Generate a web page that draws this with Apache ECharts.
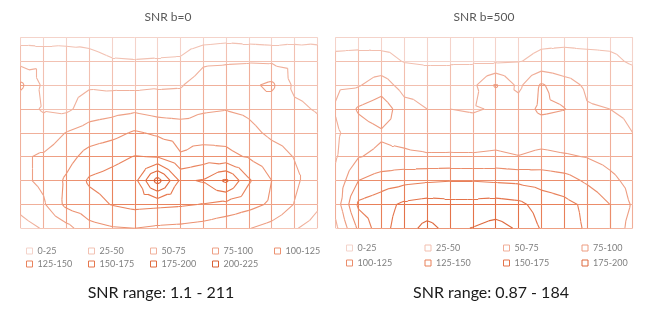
<!DOCTYPE html>
<html><head><meta charset="utf-8">
<script src="https://cdn.jsdelivr.net/npm/echarts@6/dist/echarts.min.js"></script>
<style>html,body{margin:0;padding:0;background:#fff}#c{width:659px;height:318px}</style>
</head><body><div id="c"></div>
<script>
// ---- data ----
const leftTitle = 'SNR b=0';
const rightTitle = 'SNR b=500';
const leftRange = 'SNR range: 1.1 - 211';
const rightRange = 'SNR range: 0.87 - 184';
const leftBands = ['0-25','25-50','50-75','75-100','100-125','125-150','150-175','175-200','200-225'];
const rightBands = ['0-25','25-50','50-75','75-100','100-125','125-150','150-175','175-200'];
const bandStep = 25;
// rows top -> bottom, 14 columns each
const leftZ = [
  [16,14,16,18,13,12,12,13,15,18,16,14,17,19],
  [42,45,40,33,27,26,27,28,46,47,48,47,44,38],
  [80,45,44,47,45,45,47,48,62,68,70,80,45,42],
  [58,48,45,62,66,70,64,62,72,74,70,60,55,48],
  [66,60,76,86,92,103,96,92,88,92,82,70,66,58],
  [72,78,90,110,118,126,124,102,112,106,98,86,74,64],
  [70,80,104,128,134,142,211,146,152,180,128,100,80,60],
  [58,72,106,116,126,132,130,128,124,118,108,96,74,54],
  [40,52,66,92,98,100,96,94,90,82,76,66,52,40]
];
const rightZ = [
  [15,15,16,18,16,15,14,14,16,20,20,18,18,16],
  [32,34,32,24,22,22,22,22,24,30,32,32,30,22],
  [46,48,62,40,40,42,44,78,44,78,60,46,42,40],
  [52,78,90,60,50,50,48,52,62,80,76,52,50,48],
  [46,64,72,66,60,62,60,62,58,60,58,56,54,50],
  [48,74,80,80,78,78,78,80,76,82,78,74,66,56],
  [56,100,112,118,122,124,124,122,120,115,110,96,82,66],
  [60,130,140,155,160,158,158,160,156,140,132,120,100,72],
  [44,105,140,165,182,168,176,184,172,148,136,122,100,62]
];
const leftColors = ['#f4d3ca','#f2c1b2','#f0b09b','#eea085','#ec9170','#e9835d','#e6774d','#e06b3f','#d96034'];
const rightColors = ['#f4d3ca','#f2bfaf','#f0ad97','#ed9c80','#eb8d6b','#e88059','#e4734a','#dd683c'];

// ---- build contour + wireframe segments ----
function build(Z, nBands) {
  const segs = Array.from({length: nBands}, () => []);
  const band = v => Math.min(nBands - 1, Math.max(0, Math.floor(v / bandStep)));
  const nr = Z.length, nc = Z[0].length;
  function edge(x1, y1, v1, x2, y2, v2) {
    const lo = Math.min(v1, v2), hi = Math.max(v1, v2);
    const ts = [];
    for (let L = bandStep; L < nBands * bandStep; L += bandStep) {
      if (L > lo && L < hi) ts.push((L - v1) / (v2 - v1));
    }
    ts.sort((a, b) => a - b);
    const all = [0, ...ts, 1];
    for (let k = 0; k < all.length - 1; k++) {
      const ta = all[k], tb = all[k + 1], tm = (ta + tb) / 2;
      const vm = v1 + (v2 - v1) * tm;
      segs[band(vm)].push({coords: [[x1 + (x2 - x1) * ta, y1 + (y2 - y1) * ta], [x1 + (x2 - x1) * tb, y1 + (y2 - y1) * tb]]});
    }
  }
  for (let r = 0; r < nr; r++) for (let c = 0; c < nc; c++) {
    if (c < nc - 1) edge(c, r, Z[r][c], c + 1, r, Z[r][c + 1]);
    if (r < nr - 1) edge(c, r, Z[r][c], c, r + 1, Z[r + 1][c]);
  }
  for (let r = 0; r < nr - 1; r++) for (let c = 0; c < nc - 1; c++) {
    const A = [c, r, Z[r][c]], B = [c + 1, r, Z[r][c + 1]], C = [c + 1, r + 1, Z[r + 1][c + 1]], D = [c, r + 1, Z[r + 1][c]];
    const M = [c + 0.5, r + 0.5, (A[2] + B[2] + C[2] + D[2]) / 4];
    const tris = [[A, B, M], [B, C, M], [C, D, M], [D, A, M]];
    for (let k = 1; k < nBands; k++) {
      const L = k * bandStep;
      for (const t of tris) {
        const p = [];
        for (let e = 0; e < 3; e++) {
          const P = t[e], Q = t[(e + 1) % 3];
          if ((P[2] >= L) !== (Q[2] >= L)) {
            const s = (L - P[2]) / (Q[2] - P[2]);
            p.push([P[0] + (Q[0] - P[0]) * s, P[1] + (Q[1] - P[1]) * s]);
          }
        }
        if (p.length === 2) segs[k].push({coords: [p[0], p[1]]});
      }
    }
  }
  return segs;
}

const leftSegs = build(leftZ, leftBands.length);
const rightSegs = build(rightZ, rightBands.length);

const series = [];
function addSeries(segs, names, colors, gi) {
  segs.forEach((d, k) => series.push({
    type: 'lines', name: names[k], coordinateSystem: 'cartesian2d',
    xAxisIndex: gi, yAxisIndex: gi, polyline: false, silent: true,
    large: false, animation: false, z: 2 + k,
    lineStyle: {color: colors[k], width: 1.1, opacity: 1},
    itemStyle: {color: colors[k]},
    data: d
  }));
}
addSeries(leftSegs, leftBands, leftColors, 0);
addSeries(rightSegs, rightBands, rightColors, 1);

const FONT = 'Lato, "Liberation Sans", sans-serif';
function legendBlock(names, colors, left, top, textW, width, lh) {
  return {
    left: left, top: top, width: width, orient: 'horizontal', selectedMode: false,
    itemWidth: 6, itemHeight: 6, itemGap: 3, icon: 'rect',
    itemStyle: {color: '#ffffff', borderWidth: 1},
    textStyle: {fontSize: 9, color: '#7f7f7f', fontFamily: FONT, width: textW, overflow: 'truncate', lineHeight: lh},
    data: names.map((n, i) => ({name: n, icon: 'rect',
      itemStyle: {color: '#ffffff', borderColor: colors[i], borderWidth: 1}}))
  };
}

const chart = echarts.init(document.getElementById('c'), null, {renderer: 'canvas'});
chart.setOption({
  animation: false,
  backgroundColor: '#ffffff',
  grid: [
    {left: 20.7, top: 37.3, width: 296.6, height: 191},
    {left: 335.7, top: 37.3, width: 297, height: 191}
  ],
  xAxis: [
    {type: 'value', gridIndex: 0, min: 0, max: 13, show: false},
    {type: 'value', gridIndex: 1, min: 0, max: 13, show: false}
  ],
  yAxis: [
    {type: 'value', gridIndex: 0, min: 0, max: 8, inverse: true, show: false},
    {type: 'value', gridIndex: 1, min: 0, max: 8, inverse: true, show: false}
  ],
  legend: [
    legendBlock(leftBands, leftColors, 21, 241, 47.5, 318, 10),
    legendBlock(rightBands, rightColors, 341, 237, 64, 320, 12)
  ],
  graphic: [
    {type: 'text', x: 168, y: 17, style: {text: leftTitle, fill: '#595959', font: '12px ' + FONT, textAlign: 'center', textVerticalAlign: 'middle'}},
    {type: 'text', x: 484, y: 17, style: {text: rightTitle, fill: '#595959', font: '12px ' + FONT, textAlign: 'center', textVerticalAlign: 'middle'}},
    {type: 'text', x: 161, y: 293, style: {text: leftRange, fill: '#1a1a1a', font: '16px ' + FONT, textAlign: 'center', textVerticalAlign: 'middle'}},
    {type: 'text', x: 491, y: 293, style: {text: rightRange, fill: '#1a1a1a', font: '16px ' + FONT, textAlign: 'center', textVerticalAlign: 'middle'}}
  ],
  series: series
});
</script></body></html>
